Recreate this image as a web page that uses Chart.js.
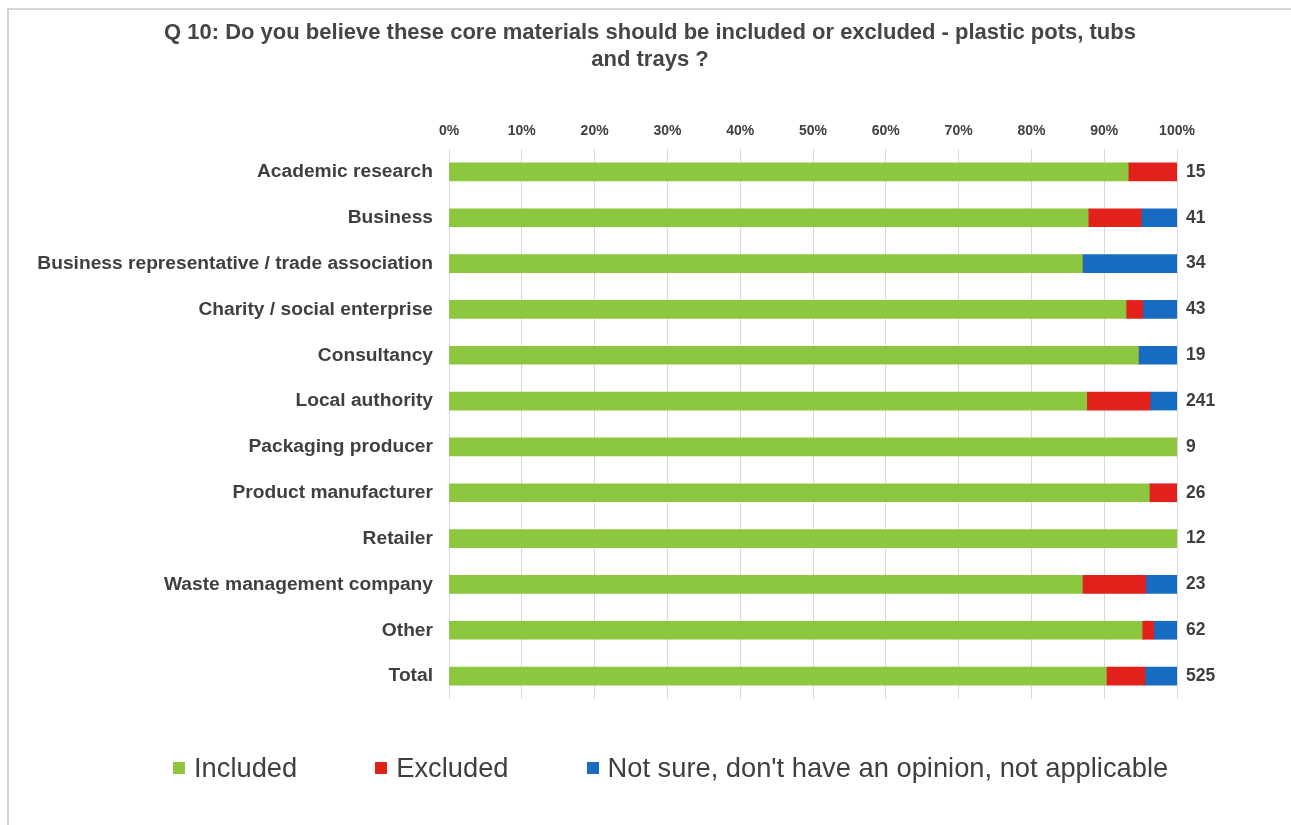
<!DOCTYPE html>
<html>
<head>
<meta charset="utf-8">
<title>Q 10 – plastic pots, tubs and trays</title>
<script src="https://cdn.jsdelivr.net/npm/chart.js@4/dist/chart.umd.min.js"></script>
<style>
  html, body { margin: 0; padding: 0; background: #ffffff; }
  #wrap { position: relative; width: 1291px; height: 825px; overflow: hidden; }
  #frame { position: absolute; left: 7px; top: 8px; right: -4px; bottom: -4px;
           border-top: 2px solid #d6d6d6; border-left: 2px solid #d6d6d6; pointer-events: none; }
  #legend { position: absolute; left: 173px; top: 751px; display: flex; gap: 78px;
            font-family: "Liberation Sans", Arial, sans-serif; font-size: 27.3px; color: #3f3f3f;
            line-height: 34px; white-space: nowrap; }
  #legend .item { display: flex; align-items: center; }
  #legend .box { width: 12px; height: 12px; margin-right: 9px; }
</style>
</head>
<body>
<div id="wrap">
  <canvas id="chart" width="1291" height="825"></canvas>
  <div id="frame"></div>
  <div id="legend"></div>
</div>
<script>
// Respondent groups (rows, top to bottom)
const categories = [
  "Academic research",
  "Business",
  "Business representative / trade association",
  "Charity / social enterprise",
  "Consultancy",
  "Local authority",
  "Packaging producer",
  "Product manufacturer",
  "Retailer",
  "Waste management company",
  "Other",
  "Total"
];

// Share of answers per group, in percent
const included = [93.3, 87.8, 87.0, 93.0, 94.7, 87.6, 100, 96.2, 100, 87.0, 95.2, 90.3];
const excluded = [6.7, 7.3, 0, 2.3, 0, 8.7, 0, 3.8, 0, 8.7, 1.6, 5.3];
const notSure  = [0, 4.9, 13.0, 4.7, 5.3, 3.7, 0, 0, 0, 4.3, 3.2, 4.4];

// Number of respondents per group
const respondents = ["15", "41", "34", "43", "19", "241", "9", "26", "12", "23", "62", "525"];

// Percentage axis ticks
const percentTicks = [0, 10, 20, 30, 40, 50, 60, 70, 80, 90, 100];

const seriesNames = ["Included", "Excluded", "Not sure, don't have an opinion, not applicable"];
const seriesColors = ["#8DC63F", "#E2211C", "#176CC1"];

const FONT = '"Liberation Sans", Arial, sans-serif';
const INK = '#3f3f3f';

const ctx = document.getElementById('chart').getContext('2d');
const chart = new Chart(ctx, {
  type: 'bar',
  data: {
    labels: categories,
    datasets: [included, excluded, notSure].map((values, i) => ({
      label: seriesNames[i],
      data: values,
      backgroundColor: seriesColors[i],
      borderWidth: 0,
      barThickness: 18,
      yAxisID: 'y'
    }))
  },
  options: {
    indexAxis: 'y',
    responsive: false,
    animation: false,
    maintainAspectRatio: false,
    layout: { padding: { left: 9, right: 0, top: 0, bottom: 126 } },
    plugins: {
      legend: { display: false },
      tooltip: { enabled: false },
      title: {
        display: true,
        text: [
          "Q 10: Do you believe these core materials should be included or excluded - plastic pots, tubs",
          "and trays ?"
        ],
        color: '#454545',
        font: { family: FONT, size: 22, weight: 'bold', lineHeight: 27 / 22 },
        padding: { top: 19.5, bottom: 19 }
      }
    },
    scales: {
      x: {
        type: 'linear',
        position: 'top',
        stacked: true,
        min: 0,
        max: 100,
        afterBuildTicks: (scale) => { scale.ticks = percentTicks.map(v => ({ value: v })); },
        afterFit: (scale) => { scale.height = 56.5; },
        ticks: {
          callback: (v) => v + '%',
          color: INK,
          padding: 9,
          font: { family: FONT, size: 14, weight: 'bold' }
        },
        grid: { color: '#d9d9d9', lineWidth: 1, drawTicks: false },
        border: { display: false }
      },
      y: {
        type: 'category',
        position: 'left',
        stacked: true,
        afterFit: (scale) => { scale.width = 440; },
        ticks: {
          color: INK,
          padding: 16,
          font: { family: FONT, size: 19.2, weight: 'bold' }
        },
        grid: { display: false, drawTicks: false },
        border: { display: false }
      },
      y2: {
        type: 'category',
        position: 'right',
        labels: respondents,
        offset: true,
        afterFit: (scale) => { scale.width = 114; },
        ticks: {
          color: INK,
          padding: 9,
          font: { family: FONT, size: 17.5, weight: 'bold' }
        },
        grid: { display: false, drawTicks: false },
        border: { display: false }
      }
    }
  }
});

// Legend built from the chart's own datasets
const legendEl = document.getElementById('legend');
chart.data.datasets.forEach(ds => {
  const item = document.createElement('div');
  item.className = 'item';
  const box = document.createElement('span');
  box.className = 'box';
  box.style.background = ds.backgroundColor;
  const text = document.createElement('span');
  text.textContent = ds.label;
  item.appendChild(box);
  item.appendChild(text);
  legendEl.appendChild(item);
});
</script>
</body>
</html>
